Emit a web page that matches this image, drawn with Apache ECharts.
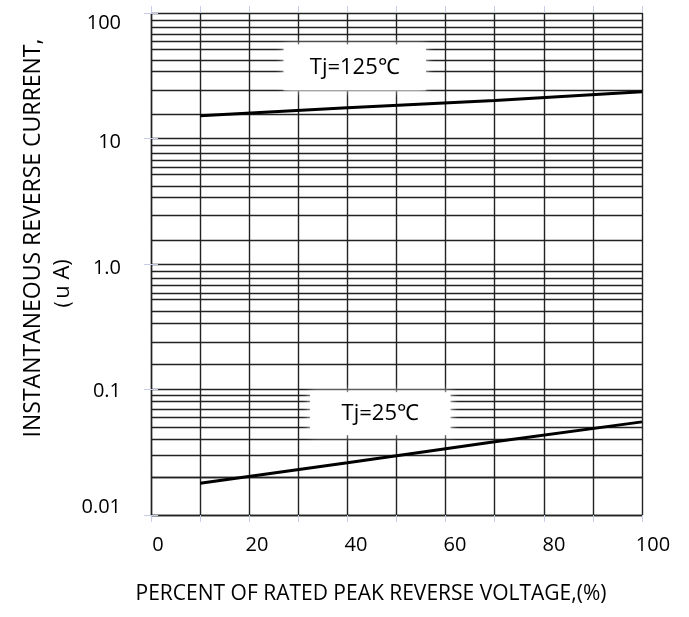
<!DOCTYPE html>
<html>
<head>
<meta charset="utf-8">
<script src="https://cdn.jsdelivr.net/npm/echarts@6/dist/echarts.min.js"></script>
</head>
<body style="margin:0;background:#fff">
<div id="main" style="width:689px;height:617px;"></div>
<script type="text/javascript">
// values
var xPercent = [10, 40, 70, 100];
var tj125 = [15.2, 17.6, 20.1, 23.6];
var tj25 = [0.0179, 0.0261, 0.0383, 0.0552];
var yTickLabels = ['0.01', '0.1', '1.0', '10', '100'];
// the datasheet grid has 9 uneven lines inside every decade
var decades = [0.01, 0.1, 1, 10];
var minorSteps = [1.56, 2.44, 3.41, 4.2, 5.16, 5.92, 6.76, 7.69, 8.79];

var FONT = "'Open Sans', sans-serif";
var GRID_COLOR = '#222';
var TICK_COLOR = '#c8cde6';
// the original labels do not sit exactly on their lines
var labelRich = {
    d10: { padding: [20, 0, 0, 0] },
    d4: { padding: [8, 0, 0, 0] },
    d2: { padding: [4, 0, 0, 0] },
    u8: { padding: [0, 0, 16, 0] }
};
var labelShift = ['u8', 'd2', 'd4', 'd4', 'd10'];

var minorLines = [];
decades.forEach(function (d) {
    minorSteps.forEach(function (m) {
        minorLines.push({ yAxis: +(d * m).toPrecision(4) });
    });
});

function pairs(xs, ys) {
    return xs.map(function (x, i) { return [x, ys[i]]; });
}

var myChart = echarts.init(document.getElementById('main'));
var option = {
    animation: false,
    backgroundColor: '#fff',
    grid: [
        { left: 151, right: 47, top: 13, bottom: 102 },
        // x labels sit on their own slightly shifted scale in the original
        { left: 158, right: 36, top: 13, bottom: 102 }
    ],
    xAxis: [
        {
            type: 'value', gridIndex: 0, min: 0, max: 100, interval: 10,
            axisLine: { show: true, lineStyle: { color: GRID_COLOR, width: 1.4 } },
            axisTick: { show: true, length: 7, lineStyle: { color: TICK_COLOR } },
            axisLabel: { show: false },
            splitLine: { show: true, lineStyle: { color: GRID_COLOR, width: 1.4 } }
        },
        {
            type: 'value', gridIndex: 0, position: 'top', min: 0, max: 100, interval: 10,
            axisLine: { show: false },
            axisTick: { show: true, length: 7, lineStyle: { color: TICK_COLOR } },
            axisLabel: { show: false },
            splitLine: { show: false }
        },
        {
            type: 'value', gridIndex: 1, min: 0, max: 100, interval: 20,
            axisLine: { show: false },
            axisTick: { show: false },
            axisLabel: { margin: 20, fontSize: 20, color: '#000', fontFamily: FONT },
            splitLine: { show: false }
        }
    ],
    yAxis: [
        {
            type: 'log', logBase: 10, gridIndex: 0, min: 0.01, max: 100,
            axisLine: { show: true, lineStyle: { color: GRID_COLOR, width: 1.4 } },
            axisTick: { show: true, length: 7, lineStyle: { color: TICK_COLOR } },
            axisLabel: {
                margin: 30, fontSize: 20, color: '#000', fontFamily: FONT,
                rich: labelRich,
                formatter: function (v, i) {
                    return '{' + labelShift[i] + '|' + yTickLabels[i] + '}';
                }
            },
            splitLine: { show: true, lineStyle: { color: GRID_COLOR, width: 1.4 } }
        },
        {
            type: 'log', logBase: 10, gridIndex: 0, position: 'right', min: 0.01, max: 100,
            axisLine: { show: false },
            axisTick: { show: true, length: 7, lineStyle: { color: TICK_COLOR } },
            axisLabel: { show: false },
            splitLine: { show: false }
        },
        { type: 'value', gridIndex: 1, show: false, min: 0, max: 1 }
    ],
    graphic: [
        {
            type: 'text', x: 33, y: 238, rotation: Math.PI / 2,
            style: {
                text: 'INSTANTANEOUS REVERSE CURRENT,', fill: '#000',
                font: '23px ' + FONT, align: 'center', verticalAlign: 'middle'
            }
        },
        {
            type: 'text', x: 63, y: 290, rotation: Math.PI / 2,
            style: {
                text: '（u A)', fill: '#000',
                font: '22px ' + FONT, align: 'center', verticalAlign: 'middle'
            }
        },
        {
            type: 'text', x: 371, y: 594,
            style: {
                text: 'PERCENT OF RATED PEAK REVERSE VOLTAGE,(%)', fill: '#000',
                font: '21px ' + FONT, align: 'center', verticalAlign: 'middle'
            }
        }
    ],
    series: [
        {
            // minor grid lines
            type: 'line', xAxisIndex: 0, yAxisIndex: 0, z: 1, data: [],
            markLine: {
                z: 1, silent: true, symbol: 'none', label: { show: false },
                lineStyle: { color: GRID_COLOR, width: 1.4, type: 'solid' },
                data: minorLines
            }
        },
        {
            // white label boxes
            type: 'line', xAxisIndex: 0, yAxisIndex: 0, z: 3, data: [],
            markArea: {
                z: 3, silent: true,
                itemStyle: { color: '#fff', shadowColor: '#fff', shadowBlur: 8 },
                label: {
                    show: true, position: 'inside', color: '#000',
                    fontSize: 22, fontFamily: FONT
                },
                data: [
                    [{ name: 'Tj=125℃', coord: [27, 56] }, { coord: [56, 24.2] }],
                    [{ name: 'Tj=25℃', coord: [32.4, 0.095] }, { coord: [61, 0.0434] }]
                ]
            }
        },
        {
            name: 'Tj=125℃', type: 'line', xAxisIndex: 0, yAxisIndex: 0, z: 4,
            symbol: 'none', lineStyle: { color: '#000', width: 3 },
            data: pairs(xPercent, tj125)
        },
        {
            name: 'Tj=25℃', type: 'line', xAxisIndex: 0, yAxisIndex: 0, z: 4,
            symbol: 'none', lineStyle: { color: '#000', width: 3 },
            data: pairs(xPercent, tj25)
        }
    ]
};
myChart.setOption(option);
</script>
</body>
</html>
